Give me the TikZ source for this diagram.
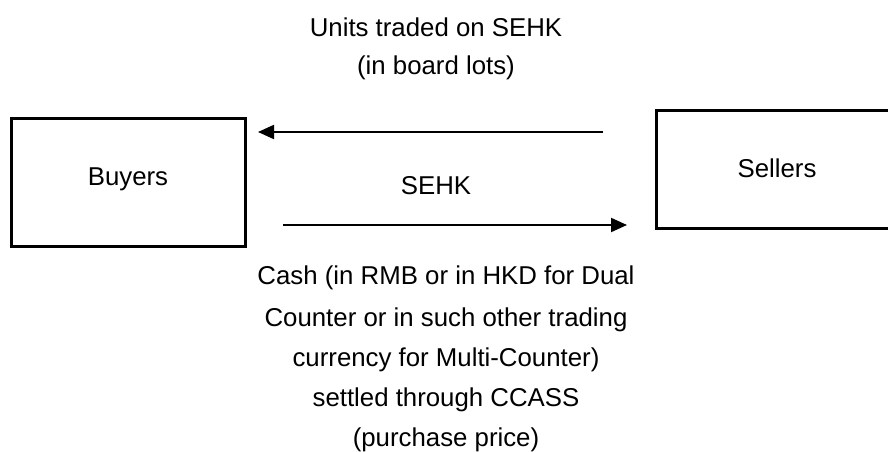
\documentclass[tikz,border=0pt]{standalone}
\usepackage{fontspec}
\setmainfont{Liberation Sans}
\usetikzlibrary{arrows.meta}
\begin{document}
\begin{tikzpicture}[x=1pt,y=-1pt,
  party/.style={draw,line width=3pt,minimum width=234pt,minimum height=128pt,inner sep=0pt},
  lbl/.style={font=\fontsize{25.8}{30}\selectfont,inner sep=0pt,align=center},
  flow/.style={line width=2pt,-{Triangle[length=16pt,width=14pt]}}]
\useasboundingbox (0,0) rectangle (888,452);
\node[party] (buyers) at (128,182) {};
\node[lbl] (buyerst) at (128,179) {Buyers};
\node[party,minimum width=240pt,minimum height=118pt] (sellers) at (776,169) {};
\node[lbl] (sellerst) at (777,168) {Sellers};
\coordinate (a1) at (603,132);
\coordinate (a2) at (258,132);
\coordinate (b1) at (283,225);
\coordinate (b2) at (627,225);
\draw[flow] (a1) -- (a2);
\draw[flow] (b1) -- (b2);
\node[lbl] (top1) at (436,27) {Units traded on SEHK};
\node[lbl] (top2) at (436,68) {(in board lots)};
\node[lbl] (sehk) at (436,186) {SEHK};
\node[lbl] (c1) at (446,278) {Cash (in RMB or in HKD for Dual};
\node[lbl] (c2) at (446,320) {Counter or in such other trading};
\node[lbl] (c3) at (446,360) {currency for Multi-Counter)};
\node[lbl] (c4) at (446,400) {settled through CCASS};
\node[lbl] (c5) at (446,440) {(purchase price)};
\end{tikzpicture}
\end{document}
